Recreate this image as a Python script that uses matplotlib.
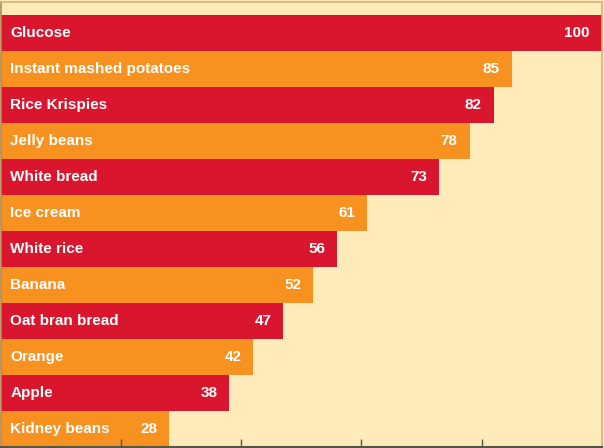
import matplotlib.pyplot as plt
import numpy as np

foods = ['Glucose', 'Instant mashed potatoes', 'Rice Krispies', 'Jelly beans',
         'White bread', 'Ice cream', 'White rice', 'Banana', 'Oat bran bread',
         'Orange', 'Apple', 'Kidney beans']
gi = [100, 85, 82, 78, 73, 61, 56, 52, 47, 42, 38, 28]

red = '#D9162D'
orange = '#F7911F'
cream = '#FEEBB9'

plt.rcParams['font.family'] = ['Liberation Sans', 'DejaVu Sans']

fig = plt.figure(figsize=(6.04, 4.48), dpi=100)
fig.patch.set_facecolor(cream)
ax = fig.add_axes([0.002, 0.002, 0.994, 0.994])
ax.set_facecolor(cream)

n = len(foods)
ypos = np.arange(n)[::-1]
colors = [red if i % 2 == 0 else orange for i in range(n)]
ax.barh(ypos, gi, height=1.0, color=colors, edgecolor='none')

for y, name, v in zip(ypos, foods, gi):
    ax.text(1.5, y, name, color='white', fontsize=11, fontweight='bold',
            va='center', ha='left')
    ax.text(v - 2, y, str(v), color='white', fontsize=11, fontweight='bold',
            va='center', ha='right')

ax.set_xlim(0, 100)
ax.set_ylim(-0.5, n - 0.5 + 0.36)
ax.set_xticks([20, 40, 60, 80])
ax.set_xticklabels([])
ax.set_yticks([])
ax.tick_params(axis='x', direction='in', length=6, width=1, color='#55554a')

for side in ['top', 'right', 'left']:
    ax.spines[side].set_color('#D9B07A')
    ax.spines[side].set_linewidth(1.2)
ax.spines['left'].set_color('#B08A5A')
ax.spines['bottom'].set_color('#55554a')
ax.spines['bottom'].set_linewidth(1.5)

fig.savefig('out.png', dpi=100, facecolor=cream)
